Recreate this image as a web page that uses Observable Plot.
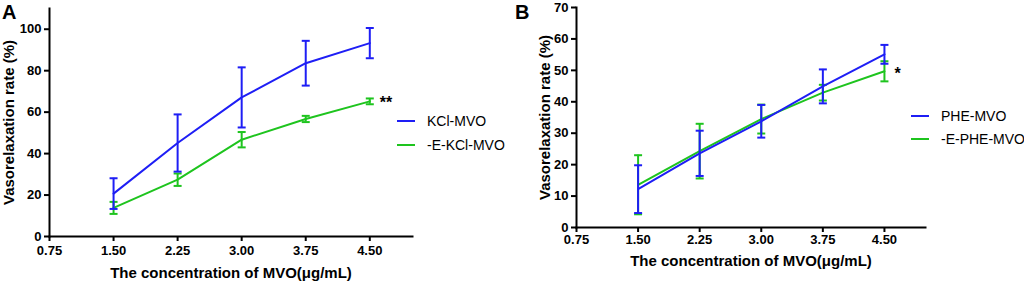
<!DOCTYPE html>
<html>
<head>
<meta charset="utf-8">
<script src="https://cdn.jsdelivr.net/npm/d3@7"></script>
<script src="https://cdn.jsdelivr.net/npm/@observablehq/plot@0.6"></script>
<style>
  html, body { margin: 0; padding: 0; background: #fff; }
  #wrap { position: relative; width: 1024px; height: 282px; overflow: hidden; font-family: "Liberation Sans", Arial, sans-serif; }
  .panel { position: absolute; top: 0; }
  .panel svg text { font-weight: bold; }
  .panel svg text.star { font-weight: normal; }
  .tag { position: absolute; font-weight: bold; font-size: 20px; line-height: 1; }
  .leg { position: absolute; font-size: 14px; line-height: 1; display: flex; align-items: center; white-space: nowrap; }
  .leg span.sw { display: inline-block; width: 18px; height: 2px; margin-right: 12px; }
</style>
</head>
<body>
<div id="wrap"></div>
<script>
// ---- data ----
const concentrations = [1.5, 2.25, 3.0, 3.75, 4.5];
const xTicks = [0.75, 1.5, 2.25, 3.0, 3.75, 4.5];

const kclMean  = [20.7, 45.1, 67.1, 83.6, 93.3];
const kclErr   = [7.4, 13.8, 14.5, 10.8, 7.3];
const ekclMean = [13.8, 27.4, 46.7, 56.7, 65.2];
const ekclErr  = [2.9, 3.0, 3.7, 1.5, 1.4];

const pheMean  = [12.2, 23.6, 33.8, 44.9, 55.1];
const pheErr   = [7.6, 7.2, 5.2, 5.4, 3.0];
const epheMean = [13.6, 24.3, 34.5, 42.9, 49.7];
const epheErr  = [9.4, 8.7, 4.6, 2.5, 3.2];

const yTicksA = [0, 20, 40, 60, 80, 100];
const yTicksB = [0, 10, 20, 30, 40, 50, 60, 70];

const seriesA = ["KCl-MVO", "-E-KCl-MVO"];
const seriesB = ["PHE-MVO", "-E-PHE-MVO"];
const BLUE = "#1e1ef5", GREEN = "#1ec41e";

const xLabel = "The concentration of MVO(μg/mL)";
const yLabel = "Vasorelaxation rate (%)";

function rows(mean, err) {
  return concentrations.map((x, i) => ({x, mean: mean[i], lo: mean[i] - err[i], hi: mean[i] + err[i]}));
}

const hline = {
  draw(ctx, size) {
    const r = Math.sqrt(size / Math.PI);
    ctx.moveTo(-r, 0); ctx.lineTo(r, 0);
  }
};

function seriesMarks(data, color) {
  return [
    Plot.line(data, {x: "x", y: "mean", stroke: color, strokeWidth: 2}),
    Plot.ruleX(data, {x: "x", y1: "lo", y2: "hi", stroke: color, strokeWidth: 2}),
    Plot.dot(data, {x: "x", y: "lo", symbol: hline, r: 4, stroke: color, fill: "none", strokeWidth: 2}),
    Plot.dot(data, {x: "x", y: "hi", symbol: hline, r: 4, stroke: color, fill: "none", strokeWidth: 2})
  ];
}

function panel(o) {
  return Plot.plot({
    width: 512, height: 282,
    marginLeft: o.ml, marginRight: o.mr, marginTop: o.mt, marginBottom: o.mb,
    style: {fontFamily: "Liberation Sans, Arial, sans-serif", fontSize: "13px", color: "#000", background: "#fff", overflow: "visible"},
    x: {domain: [0.75, 5.0]},
    y: {domain: o.ydom},
    marks: [
      Plot.frame({anchor: "left", stroke: "#000", strokeWidth: 2}),
      Plot.frame({anchor: "bottom", stroke: "#000", strokeWidth: 2}),
      Plot.axisX({ticks: xTicks, tickFormat: d => d.toFixed(2), tickSize: 5, tickPadding: o.xpad, strokeWidth: 2, fontSize: 13, fill: "#000", label: null}),
      Plot.axisY({ticks: o.yticks, tickSize: 5, tickPadding: 3, strokeWidth: 2, fontSize: 13, fill: "#000", label: null}),
      Plot.text([yLabel], {frameAnchor: "left", textAnchor: "middle", lineAnchor: "middle", rotate: -90, dx: o.ylx, fontSize: 15, fill: "#000"}),
      Plot.text([xLabel], {frameAnchor: "bottom", textAnchor: "middle", lineAnchor: "middle", dy: o.xly, fontSize: 15, fill: "#000"}),
      ...seriesMarks(o.s2, GREEN),
      ...seriesMarks(o.s1, BLUE),
      Plot.text(o.s2.slice(-1), {x: "x", y: "mean", text: () => o.star, textAnchor: "start", dx: 10, dy: o.stardy, fontSize: 16, fill: "#000", className: "star"})
    ]
  });
}

const wrap = document.getElementById("wrap");

const pA = panel({ml: 49, mr: 100, mt: 8, mb: 46, ydom: [0, 110], yticks: yTicksA, xpad: 4, ylx: -40, xly: 37,
  s1: rows(kclMean, kclErr), s2: rows(ekclMean, ekclErr), star: "**", stardy: 2});
const pB = panel({ml: 64, mr: 99, mt: 7, mb: 55, ydom: [0, 70], yticks: yTicksB, xpad: 2, ylx: -31, xly: 34,
  s1: rows(pheMean, pheErr), s2: rows(epheMean, epheErr), star: "*", stardy: 3});

function place(node, left) {
  const d = document.createElement("div");
  d.className = "panel"; d.style.left = left + "px";
  d.appendChild(node); wrap.appendChild(d);
}
place(pA, 0); place(pB, 512);

function tag(t, x, y) {
  const d = document.createElement("div"); d.className = "tag"; d.textContent = t;
  d.style.left = x + "px"; d.style.top = y + "px"; wrap.appendChild(d);
}
tag("A", 2, 2); tag("B", 515, 2);

function legend(names, x, ys) {
  [BLUE, GREEN].forEach((c, i) => {
    const d = document.createElement("div"); d.className = "leg";
    d.style.left = x + "px"; d.style.top = (ys[i] - 8) + "px"; d.style.height = "16px";
    d.innerHTML = `<span class="sw" style="background:${c}"></span><span>${names[i]}</span>`;
    wrap.appendChild(d);
  });
}
legend(seriesA, 397, [121, 145]);
legend(seriesB, 911, [116, 139]);
</script>
</body>
</html>
